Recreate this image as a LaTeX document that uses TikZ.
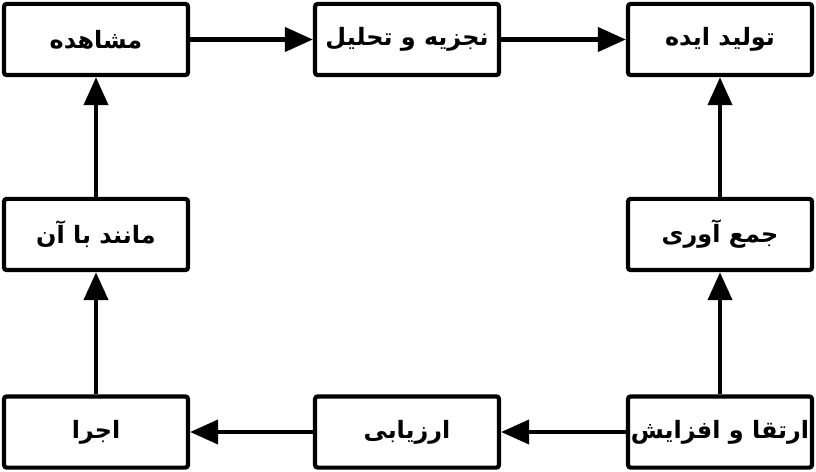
\documentclass[tikz,border=0pt]{standalone}
\usepackage{fontspec}
\newfontfamily\arabicfont[Script=Arabic]{DejaVu Sans}
\TeXXeTstate=1
\usetikzlibrary{arrows.meta}

\tikzset{
    stepbox/.style={draw, line width=3pt, rounded corners=2pt, fill=white,
        minimum width=4.6cm, minimum height=1.78cm, inner sep=0pt,
        font=\arabicfont\bfseries\fontsize{17}{20}\selectfont},
    flow/.style={line width=3pt, -{Triangle[length=0.7cm, width=0.6cm]}}
}
\newcommand{\rtl}[1]{\beginR #1\endR}

\begin{document}
\begin{tikzpicture}[x=0.025cm, y=-0.025cm]
    \useasboundingbox (0, 0) rectangle (816, 472);

    % top row
    \node[stepbox] (obs) at (96, 39.5) {\rtl{مشاهده}};
    \node[stepbox] (ana) at (407, 39.5) {\rtl{نجزیه و تحلیل}};
    \node[stepbox] (idea) at (720, 39.5) {\rtl{تولید ایده}};

    % middle row
    \node[stepbox] (sim) at (96, 234.5) {\rtl{مانند با آن}};
    \node[stepbox] (col) at (720, 234.5) {\rtl{جمع آوری}};

    % bottom row
    \node[stepbox] (run) at (96, 432) {\rtl{اجرا}};
    \node[stepbox] (eval) at (407, 432) {\rtl{ارزیابی}};
    \node[stepbox] (imp) at (720, 432) {\rtl{ارتقا و افزایش}};

    \draw[flow] (obs) -- (ana);
    \draw[flow] (ana) -- (idea);
    \draw[flow] (col) -- (idea);
    \draw[flow] (imp) -- (col);
    \draw[flow] (imp) -- (eval);
    \draw[flow] (eval) -- (run);
    \draw[flow] (run) -- (sim);
    \draw[flow] (sim) -- (obs);
\end{tikzpicture}
\end{document}
